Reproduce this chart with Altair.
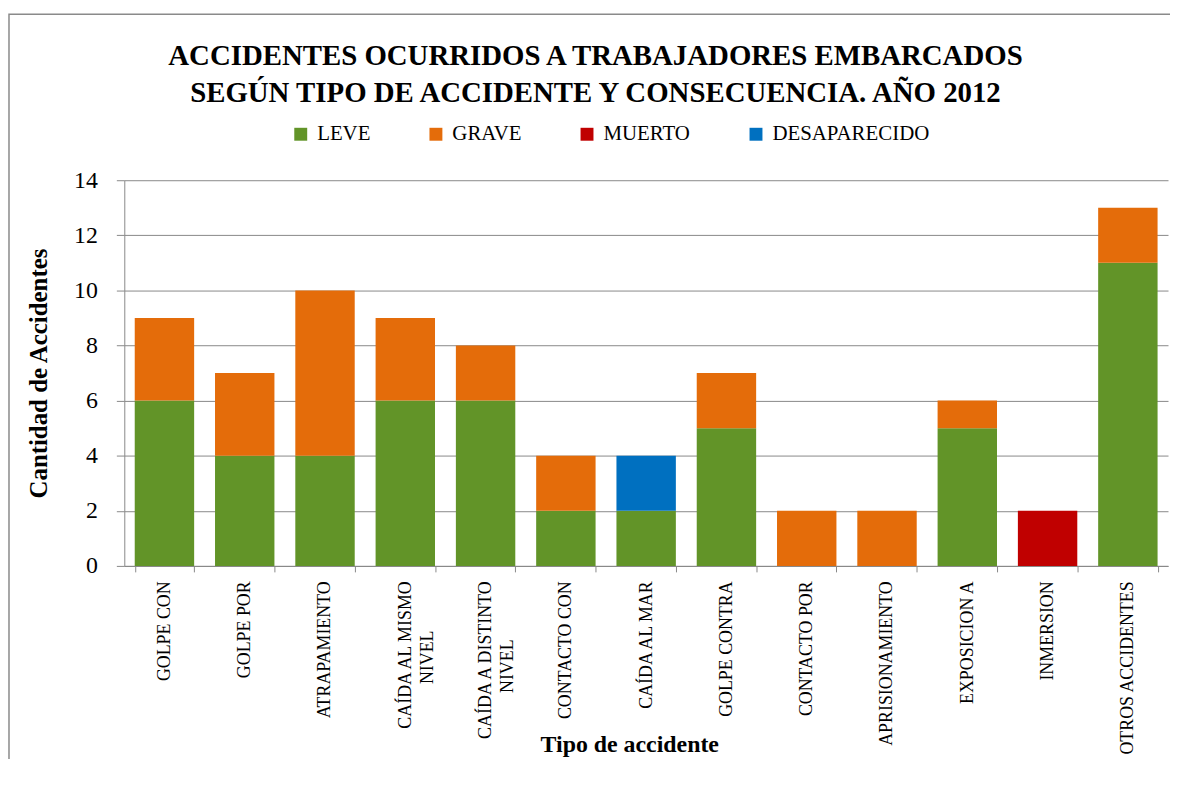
import altair as alt
import pandas as pd

categories = [
    "GOLPE CON", "GOLPE POR", "ATRAPAMIENTO", "CAÍDA AL MISMO\nNIVEL",
    "CAÍDA A DISTINTO\nNIVEL", "CONTACTO CON", "CAÍDA AL MAR", "GOLPE CONTRA",
    "CONTACTO POR", "APRISIONAMIENTO", "EXPOSICION A", "INMERSION", "OTROS ACCIDENTES",
]
series = ["LEVE", "GRAVE", "MUERTO", "DESAPARECIDO"]
colors = ["#629428", "#E46C0A", "#C00000", "#0070C0"]
leve = [6, 4, 4, 6, 6, 2, 2, 5, 0, 0, 5, 0, 11]
grave = [3, 3, 6, 3, 2, 2, 0, 2, 2, 2, 1, 0, 2]
muerto = [0, 0, 0, 0, 0, 0, 0, 0, 0, 0, 0, 2, 0]
desaparecido = [0, 0, 0, 0, 0, 0, 2, 0, 0, 0, 0, 0, 0]
y_ticks = [0, 2, 4, 6, 8, 10, 12, 14]

rows = []
for s_i, (name, vals) in enumerate(zip(series, [leve, grave, muerto, desaparecido])):
    for cat, v in zip(categories, vals):
        if v > 0:
            rows.append({"tipo": cat, "serie": name, "valor": v, "orden": s_i})
df = pd.DataFrame(rows)

SERIF = "Liberation Serif"
GRAY = "#888888"

# multi-line labels: second line centred under the first
# (padded with no-break spaces, closed by a zero-width space so they are not trimmed)
label_expr = (
    "length(split(datum.label, '\\n')) > 1 ? "
    "[split(datum.label, '\\n')[0], "
    "pad(split(datum.label, '\\n')[1], length(split(datum.label, '\\n')[0]) + 2, '\u00a0', 'right') + '\u200b'] "
    ": datum.label"
)

bars = alt.Chart(df).mark_bar().encode(
    x=alt.X(
        "tipo:N",
        sort=categories,
        scale=alt.Scale(paddingInner=0.26, paddingOuter=0.13),
        axis=alt.Axis(
            title="Tipo de accidente",
            labelAngle=-90,
            labelExpr=label_expr,
            labelFont=SERIF,
            labelFontSize=18,
            labelLineHeight=22,
            labelLimit=400,
            labelColor="black",
            labelPadding=9,
            tickSize=6,
            tickBand="extent",
            tickColor=GRAY,
            domainColor=GRAY,
            titleFont=SERIF,
            titleFontSize=24,
            titleFontWeight="bold",
            titleColor="black",
            titleX=508,
            titleY=187,
            titleBaseline="alphabetic",
            titleAnchor="start",
            titleAlign="center",
        ),
    ),
    y=alt.Y(
        "valor:Q",
        stack="zero",
        scale=alt.Scale(domain=[0, 14], nice=False),
        axis=alt.Axis(
            title="Cantidad de Accidentes",
            values=y_ticks,
            labelFont=SERIF,
            labelFontSize=24,
            labelColor="black",
            labelPadding=19,
            tickSize=8,
            tickColor=GRAY,
            domainColor=GRAY,
            gridColor=GRAY,
            gridOpacity=1,
            titleFont=SERIF,
            titleFontSize=25,
            titleFontWeight="bold",
            titleColor="black",
            titlePadding=22,
        ),
    ),
    color=alt.Color(
        "serie:N",
        sort=series,
        scale=alt.Scale(domain=series, range=colors),
        legend=alt.Legend(
            title=None,
            orient="none",
            legendX=167,
            legendY=-57,
            direction="horizontal",
            columns=4,
            symbolType="square",
            symbolSize=169,
            symbolStrokeWidth=0,
            labelFont=SERIF,
            labelFontSize=21,
            labelColor="black",
            labelOffset=6,
            columnPadding=55,
        ),
    ),
    order=alt.Order("orden:Q"),
)

border = alt.Chart(pd.DataFrame({"k": [0]})).mark_rect(
    fill=None, stroke="#8a8a8a", strokeWidth=1.5
).encode(
    x=alt.value(-116), x2=alt.value(1100),
    y=alt.value(-167), y2=alt.value(700),
)

chart = alt.layer(border, bars).properties(
    width=1050,
    height=388,
    title=alt.TitleParams(
        text=["ACCIDENTES OCURRIDOS A TRABAJADORES EMBARCADOS",
              "SEGÚN TIPO DE ACCIDENTE Y CONSECUENCIA. AÑO 2012"],
        font=SERIF,
        fontSize=29,
        fontWeight="bold",
        color="black",
        anchor="middle",
        frame="group",
        dx=-51,
        lineHeight=37,
        offset=-95,
    ),
    autosize=alt.AutoSizeParams(type="none"),
    padding={"left": 117, "top": 171, "right": 2, "bottom": 192},
).configure_view(stroke=None).configure_axis(grid=False).configure_axisY(grid=True)

chart.save("out.html", embed_options={"renderer": "svg", "actions": False})
